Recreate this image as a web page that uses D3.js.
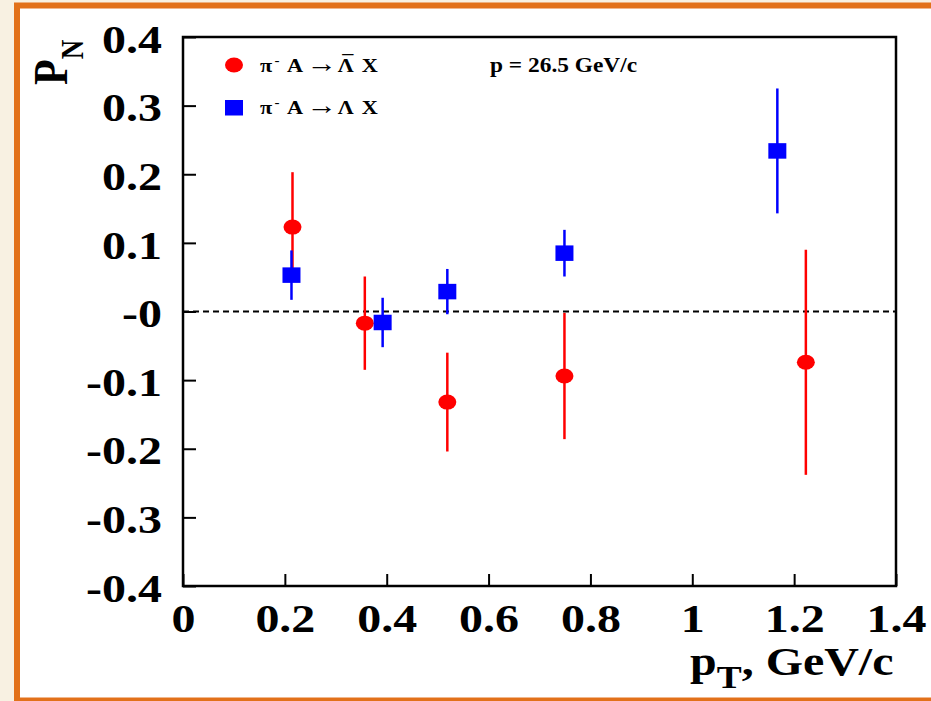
<!DOCTYPE html>
<html>
<head>
<meta charset="utf-8">
<script src="https://cdn.jsdelivr.net/npm/d3@7"></script>
<style>
  html, body { margin: 0; padding: 0; background: #fff; }
  svg { display: block; }
</style>
</head>
<body>
<svg id="chart" width="931" height="701"></svg>
<script>
// Transverse polarization P_N vs p_T, pi- A collisions at 26.5 GeV/c
const ptAntiLambda  = [0.215, 0.357, 0.519, 0.749, 1.223];
const pnAntiLambda  = [0.123, -0.017, -0.132, -0.094, -0.074];
const errAntiLambda = [0.080, 0.068, 0.072, 0.092, 0.164];

const ptLambda  = [0.213, 0.392, 0.519, 0.749, 1.167];
const pnLambda  = [0.053, -0.016, 0.029, 0.085, 0.234];
const errLambda = [0.036, 0.036, 0.033, 0.034, 0.091];

const xTicks      = [0, 0.2, 0.4, 0.6, 0.8, 1.0, 1.2, 1.4];
const xTickLabels = ["0", "0.2", "0.4", "0.6", "0.8", "1", "1.2", "1.4"];
const yTicks      = [-0.4, -0.3, -0.2, -0.1, 0, 0.1, 0.2, 0.3, 0.4];
const yTickLabels = ["-0.4", "-0.3", "-0.2", "-0.1", "-0", "0.1", "0.2", "0.3", "0.4"];

const FONT = '"Liberation Serif", "Times New Roman", "DejaVu Serif", serif';
const SX = 1.17;          // horizontal stretch of the text glyphs
const RED = "#ff0000", BLUE = "#0000ff";

const svg = d3.select("#chart");

// page background and orange frame
svg.append("rect").attr("width", 931).attr("height", 701).attr("fill", "#f8f1e2");
svg.append("rect")
  .attr("x", 17).attr("y", 5.5).attr("width", 940).attr("height", 695)
  .attr("fill", "#ffffff").attr("stroke", "#e2711a").attr("stroke-width", 6);

const x = d3.scaleLinear().domain([0, 1.4]).range([183, 896]);
const y = d3.scaleLinear().domain([-0.4, 0.4]).range([586, 37]);

// y axis
const gy = svg.append("g")
  .attr("transform", `translate(${x(0)},0)`)
  .call(d3.axisLeft(y).tickValues(yTicks)
    .tickFormat((d, i) => yTickLabels[i])
    .tickSizeInner(-13).tickSizeOuter(0));
gy.select(".domain").remove();
gy.attr("font-family", FONT).attr("font-size", 41);
gy.selectAll(".tick line").attr("stroke", "#000").attr("stroke-width", 2);
gy.selectAll(".tick text")
  .attr("x", 0).attr("dy", "0.37em")
  .attr("text-anchor", "end")
  .attr("font-weight", "bold").attr("fill", "#000")
  .attr("transform", `translate(-21,0) scale(${SX},1)`);

// x axis
const gx = svg.append("g")
  .attr("transform", `translate(0,${y(-0.4)})`)
  .call(d3.axisBottom(x).tickValues(xTicks)
    .tickFormat((d, i) => xTickLabels[i])
    .tickSizeInner(-12).tickSizeOuter(0));
gx.select(".domain").remove();
gx.attr("font-family", FONT).attr("font-size", 41);
gx.selectAll(".tick line").attr("stroke", "#000").attr("stroke-width", 2);
gx.selectAll(".tick text")
  .attr("y", 0).attr("dy", 0)
  .attr("text-anchor", "middle")
  .attr("font-weight", "bold").attr("fill", "#000")
  .attr("transform", `translate(0,46) scale(${SX},1)`);

// zero reference line
svg.append("line")
  .attr("x1", x(0)).attr("x2", x(1.4))
  .attr("y1", y(0)).attr("y2", y(0))
  .attr("stroke", "#000").attr("stroke-width", 2)
  .attr("stroke-dasharray", "6,4");

const antiData = ptAntiLambda.map((p, i) => ({ pt: p, pn: pnAntiLambda[i], err: errAntiLambda[i] }));
const lamData  = ptLambda.map((p, i) => ({ pt: p, pn: pnLambda[i], err: errLambda[i] }));

// anti-Lambda series: error bars + round markers
const gA = svg.append("g");
gA.selectAll("line").data(antiData).join("line")
  .attr("x1", d => x(d.pt)).attr("x2", d => x(d.pt))
  .attr("y1", d => y(d.pn - d.err)).attr("y2", d => y(d.pn + d.err))
  .attr("stroke", RED).attr("stroke-width", 2.5);
gA.selectAll("ellipse").data(antiData).join("ellipse")
  .attr("cx", d => x(d.pt)).attr("cy", d => y(d.pn))
  .attr("rx", 9).attr("ry", 7.5).attr("fill", RED);

// Lambda series: error bars + square markers
const gL = svg.append("g");
gL.selectAll("line").data(lamData).join("line")
  .attr("x1", d => x(d.pt)).attr("x2", d => x(d.pt))
  .attr("y1", d => y(d.pn - d.err)).attr("y2", d => y(d.pn + d.err))
  .attr("stroke", BLUE).attr("stroke-width", 2.5);
gL.selectAll("rect").data(lamData).join("rect")
  .attr("x", d => x(d.pt) - 9).attr("y", d => y(d.pn) - 7.75)
  .attr("width", 18).attr("height", 15.5).attr("fill", BLUE);

// plot frame
svg.append("rect")
  .attr("x", x(0)).attr("y", y(0.4))
  .attr("width", x(1.4) - x(0)).attr("height", y(-0.4) - y(0.4))
  .attr("fill", "none").attr("stroke", "#000").attr("stroke-width", 2.5);

// axis titles
const xt = svg.append("text")
  .attr("transform", `translate(690,675) scale(${SX},1)`)
  .attr("font-family", FONT).attr("font-weight", "bold").attr("font-size", 41);
xt.append("tspan").text("p");
xt.append("tspan").attr("font-size", 32).attr("dy", 13).text("T");
xt.append("tspan").attr("dy", -13).text(", GeV/c");

const yt = svg.append("text")
  .attr("transform", `translate(67,85) scale(${SX},1) rotate(-90)`)
  .attr("font-family", FONT).attr("font-weight", "bold").attr("font-size", 42);
yt.append("tspan").text("P");
yt.append("tspan").attr("font-size", 27).attr("dy", 13.7).text("N");

// beam momentum label
svg.append("text")
  .attr("transform", `translate(490,72) scale(${SX},1)`)
  .attr("font-family", FONT).attr("font-weight", "bold").attr("font-size", 20)
  .text("p = 26.5 GeV/c");

// legend
svg.append("ellipse").attr("cx", 234).attr("cy", 65).attr("rx", 9).attr("ry", 7.5).attr("fill", RED);
svg.append("rect").attr("x", 225).attr("y", 100).attr("width", 18).attr("height", 15.5).attr("fill", BLUE);

function legendRow(baseY, withBar) {
  const t = svg.append("text")
    .attr("transform", `translate(260,${baseY}) scale(${SX},1)`)
    .attr("font-family", FONT).attr("font-weight", "bold").attr("font-size", 19);
  t.append("tspan").attr("x", 0).text("π");
  t.append("tspan").attr("x", 12.5).attr("dy", -7).attr("font-size", 13).text("-");
  t.append("tspan").attr("x", 23).attr("dy", 7).text("A");
  t.append("tspan").attr("x", 40).attr("font-weight", "normal").attr("font-size", 26).text("→");
  t.append("tspan").attr("x", 66.5).text("Λ");
  if (withBar) {
    // bar over the Lambda for the antiparticle
    t.append("tspan").attr("x", 70.3).attr("dy", -4).text("¯");
    t.append("tspan").attr("x", 87).attr("dy", 4).text("X");
  } else {
    t.append("tspan").attr("x", 87).text("X");
  }
}
legendRow(71.7, true);
legendRow(113.5, false);
</script>
</body>
</html>
